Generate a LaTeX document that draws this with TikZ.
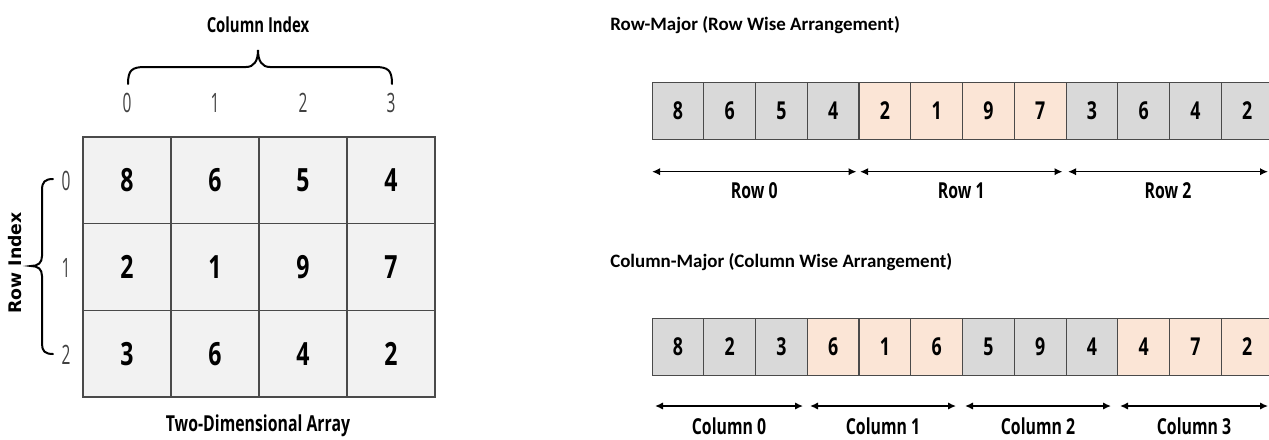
\documentclass[tikz,border=0pt]{standalone}
\usepackage{fontspec}
\usepackage{tikz}
\usetikzlibrary{arrows.meta}
\setmainfont{Carlito}
\newfontfamily\condfont[FakeStretch=0.72]{Open Sans}
\newfontfamily\thinfont[FakeStretch=0.58]{Open Sans}
\newfontfamily\rowfont{DejaVu Sans}
\definecolor{cellline}{HTML}{4A4A4A}
\definecolor{matfill}{HTML}{F2F2F2}
\definecolor{grayfill}{HTML}{D9D9D9}
\definecolor{peachfill}{HTML}{FBE5D6}

\begin{document}
\begin{tikzpicture}[x=0.75pt, y=-0.75pt,
  mcell/.style={draw=cellline, fill=matfill, line width=0.8pt, minimum width=66pt, minimum height=65pt, inner sep=0pt, font=\condfont\bfseries\fontsize{24}{27}\selectfont},
  scell/.style={draw=cellline, line width=0.8pt, minimum width=38.8pt, minimum height=42.7pt, inner sep=0pt, font=\condfont\bfseries\fontsize{18.5}{21}\selectfont},
  idx/.style={inner sep=0pt, font=\thinfont\fontsize{20}{23}\selectfont, text=black!75},
  title/.style={anchor=west, inner sep=0pt, font=\bfseries\fontsize{14.2}{17}\selectfont},
  caption/.style={inner sep=0pt, font=\condfont\bfseries\fontsize{16}{19}\selectfont},
  span/.style={{Latex[length=6pt,width=5.5pt]}-{Latex[length=6pt,width=5.5pt]}, line width=1.1pt},
  spanlabel/.style={midway, yshift=-14pt, inner sep=0pt, font=\condfont\bfseries\fontsize{16.5}{19}\selectfont},
  curly/.style={line width=1.5pt, line cap=round}]
  \useasboundingbox (0,0) rectangle (1269,439);
  \clip (0,0) rectangle (1269,439);

  % Two-dimensional array, 3 rows x 4 columns
  \foreach \v [count=\k from 0] in {8,6,5,4,2,1,9,7,3,6,4,2} {
    \pgfmathtruncatemacro{\r}{\k/4}
    \pgfmathtruncatemacro{\c}{mod(\k,4)}
    \node[mcell] (m\r\c) at ({127+88*\c},{180.3+86.67*\r}) {\v};
  }

  % column indices and their brace
  \foreach \c in {0,...,3}
    \node[idx] (ci\c) at ({127+88*\c},103) {\c};
  \draw[curly] (128,84) .. controls (128,70) and (132,67) .. (145,67) -- (246,67)
    .. controls (254,67) and (258,61) .. (258,50)
    .. controls (258,61) and (262,67) .. (270,67) -- (375,67)
    .. controls (388,67) and (392,70) .. (392,84);
  \node[caption, font=\condfont\bfseries\fontsize{15.5}{18}\selectfont] (colidx) at (258,25) {Column Index};

  % row indices and their brace
  \foreach \r in {0,1,2}
    \node[idx] (ri\r) at (66,{181+86.67*\r}) {\r};
  \draw[curly] (53,179) .. controls (45,179) and (42,182) .. (42,190) -- (42,256)
    .. controls (42,263) and (38,266) .. (31,266)
    .. controls (38,266) and (42,269) .. (42,276) -- (42,344)
    .. controls (42,351) and (45,354) .. (53,354);
  \node[rotate=90, inner sep=0pt, font=\rowfont\bfseries\fontsize{13}{15}\selectfont] (rowidx) at (15,263) {Row Index};

  \node[caption, font=\condfont\bfseries\fontsize{16.5}{19}\selectfont] (arrcap) at (258,426) {Two-Dimensional Array};

  % Row-major strip
  \node[title] (rmtitle) at (610,25) {Row-Major (Row Wise Arrangement)};
  \foreach \v/\f [count=\i from 0] in {8/grayfill,6/grayfill,5/grayfill,4/grayfill,
      2/peachfill,1/peachfill,9/peachfill,7/peachfill,
      3/grayfill,6/grayfill,4/grayfill,2/grayfill}
    \node[scell, fill=\f] (rm\i) at ({677.9+51.75*\i},111) {\v};

  \coordinate (r0a) at (652,171.7);
  \coordinate (r0b) at (856.5,171.7);
  \coordinate (r1a) at (860,171.7);
  \coordinate (r1b) at (1062.5,171.7);
  \coordinate (r2a) at (1068,171.7);
  \coordinate (r2b) at (1268,171.7);
  \draw[span] (r0a) -- node[spanlabel] {Row 0} (r0b);
  \draw[span] (r1a) -- node[spanlabel] {Row 1} (r1b);
  \draw[span] (r2a) -- node[spanlabel] {Row 2} (r2b);

  % Column-major strip
  \node[title] (cmtitle) at (610,262) {Column-Major (Column Wise Arrangement)};
  \foreach \v/\f [count=\i from 0] in {8/grayfill,2/grayfill,3/grayfill,
      6/peachfill,1/peachfill,6/peachfill,
      5/grayfill,9/grayfill,4/grayfill,
      4/peachfill,7/peachfill,2/peachfill}
    \node[scell, fill=\f] (cm\i) at ({677.9+51.75*\i},347) {\v};

  \coordinate (c0a) at (655,406);
  \coordinate (c0b) at (803,406);
  \coordinate (c1a) at (810,406);
  \coordinate (c1b) at (956,406);
  \coordinate (c2a) at (965,406);
  \coordinate (c2b) at (1111,406);
  \coordinate (c3a) at (1120,406);
  \coordinate (c3b) at (1268,406);
  \draw[span] (c0a) -- node[spanlabel, yshift=-1.5pt] {Column 0} (c0b);
  \draw[span] (c1a) -- node[spanlabel, yshift=-1.5pt] {Column 1} (c1b);
  \draw[span] (c2a) -- node[spanlabel, yshift=-1.5pt] {Column 2} (c2b);
  \draw[span] (c3a) -- node[spanlabel, yshift=-1.5pt] {Column 3} (c3b);
\end{tikzpicture}
\end{document}
